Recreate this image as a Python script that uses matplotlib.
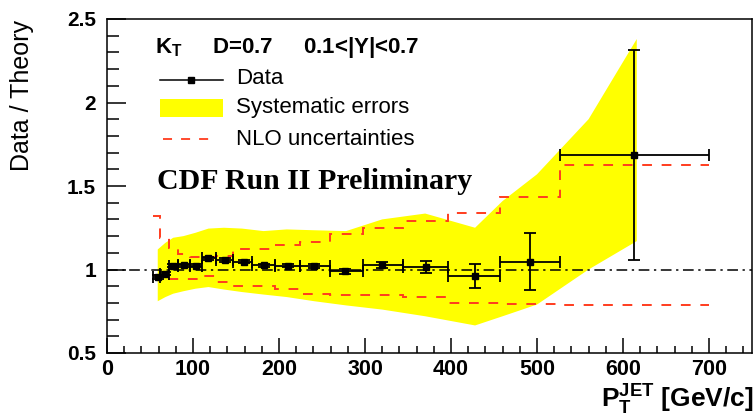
import numpy as np
import matplotlib
matplotlib.use("Agg")
import matplotlib.pyplot as plt
from matplotlib.lines import Line2D
from matplotlib.patches import Rectangle
from matplotlib.ticker import MultipleLocator

plt.rcParams['font.family'] = ['Liberation Sans', 'DejaVu Sans']
plt.rcParams['mathtext.default'] = 'regular'

# kT, D=0.7, 0.1<|Y|<0.7 : measured / NLO ratio
bin_edges = [54, 62, 72, 83, 96, 110, 127, 146, 169, 195, 224, 259, 298,
             344, 396, 457, 527, 700]
pt = [59, 68, 77, 89, 103, 117, 137, 159, 182, 210, 241, 277, 320, 371,
      428, 492, 613]
ratio = [0.956, 0.975, 1.022, 1.024, 1.022, 1.066, 1.056, 1.046, 1.024,
         1.022, 1.022, 0.990, 1.024, 1.016, 0.962, 1.046, 1.686]
stat_err = [0.012, 0.010, 0.008, 0.008, 0.008, 0.010, 0.010, 0.010, 0.010,
            0.010, 0.012, 0.015, 0.018, 0.035, 0.070, 0.170, 0.630]

# systematic error band
syst_pt = [59, 68, 77, 89, 103, 118, 136, 157, 182, 209, 241, 278, 320,
           370, 428, 460, 500, 560, 616]
syst_hi = [1.12, 1.16, 1.19, 1.20, 1.22, 1.245, 1.25, 1.245, 1.23, 1.24,
           1.235, 1.23, 1.30, 1.335, 1.25, 1.41, 1.57, 1.90, 2.38]
syst_lo = [0.81, 0.835, 0.855, 0.87, 0.885, 0.895, 0.88, 0.865, 0.85, 0.835,
           0.81, 0.785, 0.76, 0.72, 0.665, 0.72, 0.79, 1.00, 1.17]

# NLO uncertainty envelope per bin
nlo_hi = [1.32, 1.19, 1.13, 1.09, 1.076, 1.076, 1.08, 1.12, 1.12, 1.146,
          1.162, 1.21, 1.25, 1.288, 1.34, 1.432, 1.626]
nlo_lo = [0.965, 0.955, 0.946, 0.946, 0.946, 0.962, 0.926, 0.902, 0.902,
          0.882, 0.856, 0.846, 0.846, 0.838, 0.80, 0.796, 0.788]

red = '#ff3c1e'
yellow = '#ffff00'

fig = plt.figure(figsize=(7.56, 4.17), dpi=100)
ax = fig.add_axes([107 / 756, 1 - 353 / 417, 645 / 756, 334 / 417])

# band
band_x = np.concatenate([syst_pt, syst_pt[::-1]])
band_y = np.concatenate([syst_hi, syst_lo[::-1]])
ax.fill(band_x, band_y, color=yellow, lw=0, zorder=1)

# NLO steps
for vals in (nlo_hi, nlo_lo):
    ax.stairs(vals, bin_edges, baseline=None, color=red, lw=1.4,
              linestyle=(0, (5, 5)), zorder=2)

# ratio = 1
ax.axhline(1.0, color='k', lw=1.1, linestyle=(0, (7, 3, 1.5, 3)), zorder=3)

# data
pt_a = np.array(pt)
lo = np.array(bin_edges[:-1])
hi = np.array(bin_edges[1:])
ax.errorbar(pt_a, ratio, xerr=[pt_a - lo, hi - pt_a], yerr=stat_err,
            fmt='s', color='k', ms=5, elinewidth=1.3, capsize=4.3,
            capthick=1.3, zorder=4)

ax.set_xlim(0, 750)
ax.set_ylim(0.5, 2.5)
ax.xaxis.set_major_locator(MultipleLocator(100))
ax.xaxis.set_minor_locator(MultipleLocator(20))
ax.yaxis.set_major_locator(MultipleLocator(0.5))
ax.yaxis.set_minor_locator(MultipleLocator(0.1))
ax.yaxis.set_major_formatter(plt.FuncFormatter(lambda v, p: f'{v:g}'))

ax.tick_params(which='both', direction='in', top=False, right=False,
               width=1.1)
ax.tick_params(axis='y', which='major', length=14, pad=8, labelsize=15)
ax.tick_params(axis='y', which='minor', length=8.5)
ax.tick_params(axis='x', which='major', length=10.5, pad=4, labelsize=15.5)
ax.tick_params(axis='x', which='minor', length=5)
for lab in ax.get_xticklabels() + ax.get_yticklabels():
    lab.set_fontweight('bold')
for sp in ax.spines.values():
    sp.set_linewidth(1.1)

fig.text(22 / 756, 1 - 20 / 417, 'Data / Theory', rotation=90,
         ha='center', va='top', fontsize=18)
fig.text(754 / 756, 1 - 400 / 417, r'P$_T^{JET}$ [GeV/c]', ha='right',
         va='center', fontsize=19, fontweight='bold')

# legend
tr = ax.transAxes
ax.text(0.0744, 0.916, r'K$_T$     D=0.7     0.1<|Y|<0.7', transform=tr,
        fontsize=16, fontweight='bold', va='center', ha='left')
ax.add_line(Line2D([0.082, 0.18], [0.817, 0.817], color='k', lw=1.1,
                   transform=tr))
ax.add_line(Line2D([0.131], [0.817], marker='s', ms=5, color='k',
                   transform=tr))
ax.add_patch(Rectangle((0.082, 0.706), 0.098, 0.054, color=yellow, lw=0,
                       transform=tr))
ax.add_line(Line2D([0.087, 0.171], [0.641, 0.641], color=red, lw=1.3,
                   linestyle=(0, (5, 5)), transform=tr))
for yy, txt in [(0.823, 'Data'), (0.734, 'Systematic errors'),
                (0.638, 'NLO uncertainties')]:
    ax.text(0.2, yy, txt, transform=tr, fontsize=16, va='center', ha='left')

ax.text(0.0775, 0.512, 'CDF Run II Preliminary', transform=tr,
        fontsize=21.5, fontweight='bold', family='Liberation Serif',
        va='center', ha='left')

fig.savefig('out.png', dpi=100)
